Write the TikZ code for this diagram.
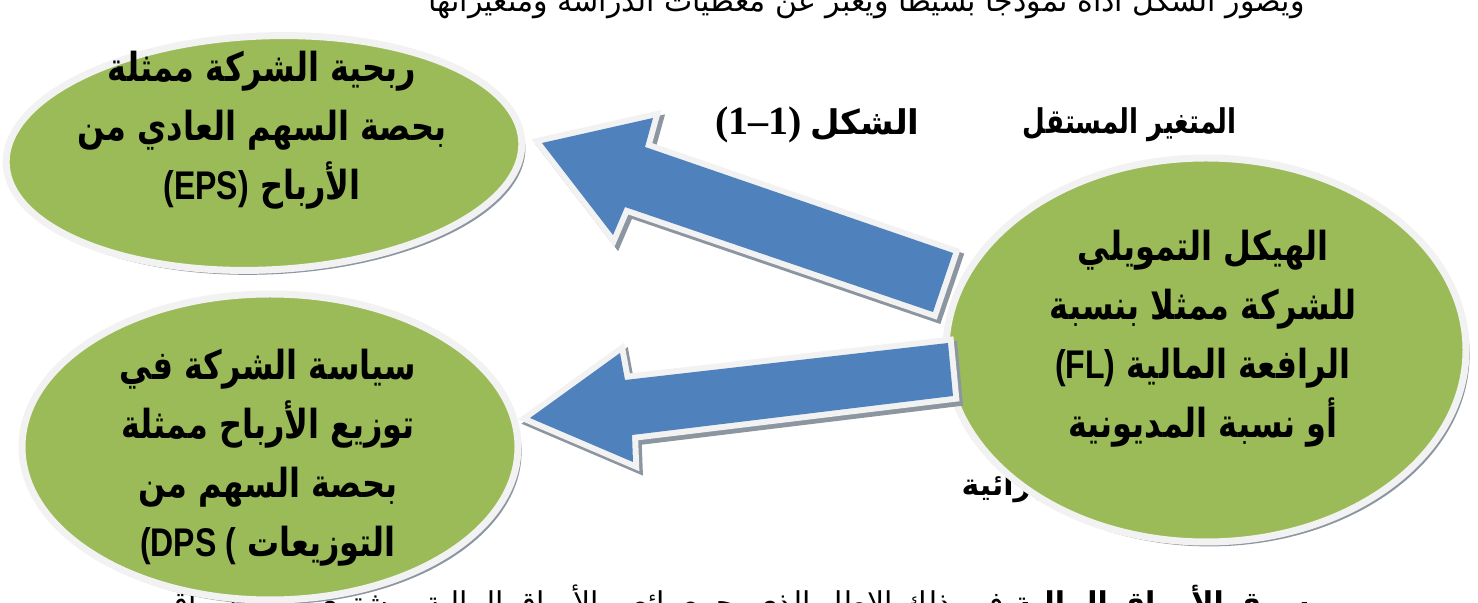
\documentclass[tikz,border=0pt]{standalone}
\usepackage{fontspec}
\setmainfont{Liberation Serif}
\newfontfamily\ar[Script=Arabic]{DejaVu Sans}
\newfontfamily\lat[Script=Latin]{Liberation Sans}
\TeXXeTstate=1
\usetikzlibrary{shapes.geometric,shadows}
\definecolor{ogreen}{HTML}{9BBB59}
\definecolor{oblue}{HTML}{4F81BD}
\definecolor{rim}{HTML}{F2F2F2}
\definecolor{shd}{HTML}{8C96A0}
\newcommand{\arl}[1]{\scalebox{0.8}[1]{\beginR #1\endR}}
% Latin part on the left, Arabic on the right, set as one left-to-right line
\newcommand{\mixl}[2]{\scalebox{0.8}[1]{{\lat\bfseries #1} \beginR #2\endR}}
\tikzset{
  oval/.style={ellipse, fill=ogreen, draw=rim, line width=3.5pt, inner sep=0pt,
    drop shadow={shadow xshift=1.8pt, shadow yshift=-2.2pt, fill=shd, opacity=1}},
  ovaltext/.style={align=center, font=\ar\bfseries\fontsize{20}{29.5}\selectfont},
  blockarrow/.style={
    drop shadow={shadow xshift=1.8pt, shadow yshift=-2.2pt, fill=shd, opacity=1, draw=shd, line width=6pt, line join=miter},
    preaction={draw=rim, line width=6pt, line join=miter},
    fill=oblue, draw=none},
  pagetext/.style={font=\ar\fontsize{15}{18}\selectfont, inner sep=0pt},
  headtext/.style={font=\bfseries\fontsize{17}{20}\selectfont, inner sep=0pt}
}
\begin{document}
\begin{tikzpicture}[x=0.5pt,y=-0.5pt]
\useasboundingbox (0,0) rectangle (1478,603);
\clip (0,0) rectangle (1478,603);
% page text behind the figure
\node[pagetext, anchor=base east] (toptext) at (1305,12) {\beginR ويصور الشكل أداة نموذجا بسيطا ويعبر عن معطيات الدراسة ومتغيراتها\endR};
\node[pagetext, anchor=north east] (bottext) at (1310,584) {\beginR {\bfseries سوق الأوراق المالية} فهو ذلك الإطار الذي يجمع بائعي الأوراق المالية بمشتري تلك الأوراق\endR};
\node[pagetext, font=\ar\bfseries\fontsize{15}{18}\selectfont, anchor=east] (frag) at (1044,488) {\beginR برائية\endR};
% headings
\node[headtext, anchor=east] (indep) at (1237,125) {\ar\scalebox{0.77}[1]{\beginR المتغير المستقل\endR}};
\node[headtext, anchor=east] (fig) at (920,125) {{\fontsize{20}{22}\selectfont(1--1)} {\ar\beginR الشكل\endR}};
% ovals
\node[oval, rotate=2.5, minimum width=258pt, minimum height=117pt] (eps) at (264,153) {};
\node[oval, minimum width=248pt, minimum height=153pt] (dps) at (270,447) {};
\node[oval, minimum width=260pt, minimum height=192pt] (fl) at (1206,350) {};
\node[ovaltext] (epst) at (262,130) {\arl{ربحية الشركة ممثلة}\\ \arl{بحصة السهم العادي من}\\ \mixl{(EPS)}{الأرباح}};
\node[ovaltext] (dpst) at (268,458) {\arl{سياسة الشركة في}\\ \arl{توزيع الأرباح ممثلة}\\ \arl{بحصة السهم من}\\ \mixl{(DPS (}{التوزيعات}};
\node[ovaltext] (flt) at (1203,339) {\arl{الهيكل التمويلي}\\ \arl{للشركة ممثلا بنسبة}\\ \mixl{(FL)}{الرافعة المالية}\\ \arl{أو نسبة المديونية}};
% block arrows
\coordinate (a1) at (542,143);
\coordinate (a2) at (653,118);
\coordinate (a3) at (645,147);
\coordinate (a4) at (953,253);
\coordinate (a5) at (933,312);
\coordinate (a6) at (625,207);
\coordinate (a7) at (613,235);
\path[blockarrow] (a1) -- (a2) -- (a3) -- (a4) -- (a5) -- (a6) -- (a7) -- cycle;
\coordinate (b1) at (530,418);
\coordinate (b2) at (620,353);
\coordinate (b3) at (625,380);
\coordinate (b4) at (948,343);
\coordinate (b5) at (953,396);
\coordinate (b6) at (632,435);
\coordinate (b7) at (633,462);
\path[blockarrow] (b1) -- (b2) -- (b3) -- (b4) -- (b5) -- (b6) -- (b7) -- cycle;
\end{tikzpicture}
\end{document}
